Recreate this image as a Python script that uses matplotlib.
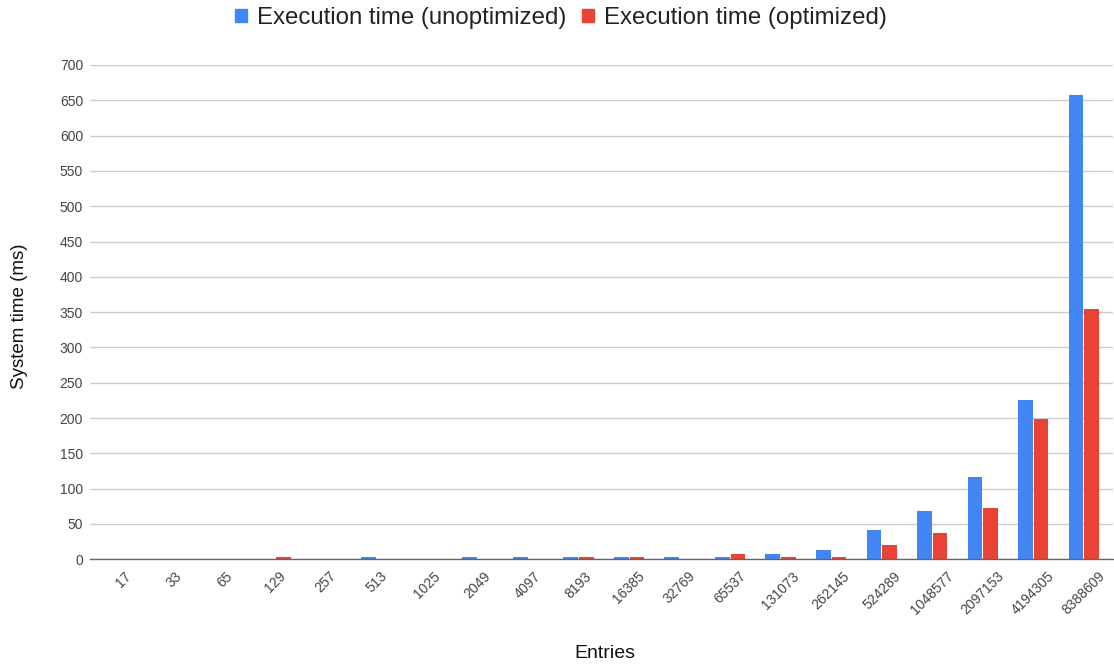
import numpy as np
import matplotlib.pyplot as plt
from matplotlib.patches import Patch

plt.rcParams["font.family"] = ["Liberation Sans", "DejaVu Sans"]

entries = ["17", "33", "65", "129", "257", "513", "1025", "2049", "4097", "8193",
           "16385", "32769", "65537", "131073", "262145", "524289", "1048577",
           "2097153", "4194305", "8388609"]
unoptimized = [0, 0, 0, 0, 0, 3, 0, 3, 3, 3, 3, 3, 3, 8, 13, 42, 68, 116, 226, 658]
optimized = [0, 0, 0, 3, 0, 0, 0, 0, 0, 3, 3, 0, 7, 3, 3, 20, 37, 72, 199, 355]

blue = "#4285F4"
red = "#EA4335"

fig = plt.figure(figsize=(11.14, 6.66), dpi=100)
ax = fig.add_axes([90 / 1114, 106.7 / 666, 1023 / 1114, 494.3 / 666])

x = np.arange(len(entries))
w = 0.29
ax.bar(x - 0.155, unoptimized, w, color=blue, zorder=3)
ax.bar(x + 0.155, optimized, w, color=red, zorder=3)

ax.set_xlim(-0.673, 19.58)
ax.set_ylim(0, 700)
ax.set_yticks(np.arange(0, 701, 50))
ax.set_xticks(x)
ax.set_xticklabels(entries, rotation=45, ha="center", va="top")
ax.tick_params(axis="both", length=0, labelsize=10, labelcolor="#444444")
ax.tick_params(axis="x", pad=7)
ax.tick_params(axis="y", pad=5)

ax.grid(axis="y", color="#cccccc", linewidth=1, zorder=0)
for side in ["top", "right", "left"]:
    ax.spines[side].set_visible(False)
ax.spines["bottom"].set_color("#666666")
ax.spines["bottom"].set_linewidth(1)
ax.spines["bottom"].set_zorder(4)

fig.text(605 / 1114, 1 - 653 / 666, "Entries", ha="center", va="center", fontsize=14, color="#111111")
fig.text(20 / 1114, 1 - 316 / 666, "System time (ms)", ha="center", va="center",
         rotation=90, fontsize=13.5, color="#111111")

handles = [Patch(color=blue, label="Execution time (unoptimized)"),
           Patch(color=red, label="Execution time (optimized)")]
fig.legend(handles=handles, loc="center", bbox_to_anchor=(561 / 1114, 1 - 18 / 666), ncol=2,
           frameon=False, fontsize=17.3, handlelength=0.5, handleheight=0.5,
           handletextpad=0.42, columnspacing=0.63, borderpad=0, labelcolor="#222222")

fig.savefig("out.png", dpi=100)
